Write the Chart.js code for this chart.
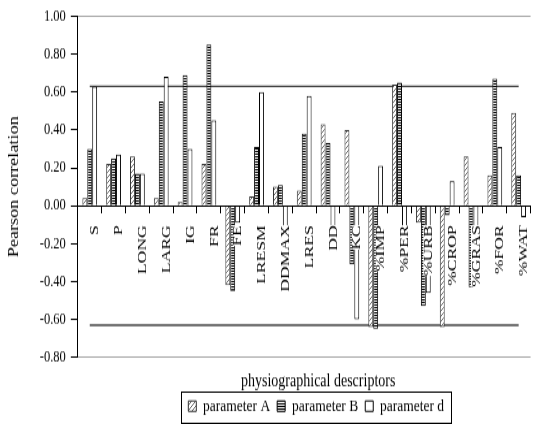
<!DOCTYPE html>
<html>
<head>
<meta charset="utf-8">
<script src="https://cdn.jsdelivr.net/npm/chart.js@4.4.1/dist/chart.umd.min.js"></script>
<style>
  html, body { margin: 0; padding: 0; background: #fff; }
  #chart { display: block; }
</style>
</head>
<body>
<!-- the reference is stretched vertically, so the canvas is drawn short and scaled up -->
<canvas id="chart" width="539" height="326" style="width:539px;height:424px"></canvas>
<script>
const descriptors = ['S', 'P', 'LONG', 'LARG', 'IG', 'FR', 'FE', 'LRESM', 'DDMAX', 'LRES',
    'DD', 'KC', '%IMP', '%PER', '%URB', '%CROP', '%GRAS', '%FOR', '%WAT'];

const paramA = [0.04, 0.22, 0.26, 0.04, 0.02, 0.22, -0.42, 0.05, 0.10, 0.08,
    0.43, 0.40, -0.64, 0.64, -0.09, -0.64, 0.26, 0.16, 0.49];
const paramB = [0.30, 0.25, 0.17, 0.55, 0.69, 0.85, -0.45, 0.31, 0.11, 0.38,
    0.33, -0.31, -0.65, 0.65, -0.53, -0.05, -0.43, 0.67, 0.16];
const paramD = [0.63, 0.27, 0.17, 0.68, 0.30, 0.45, -0.09, 0.60, -0.34, 0.58,
    -0.21, -0.60, 0.21, -0.22, -0.46, 0.13, -0.25, 0.31, -0.06];

// significance limits drawn from the first to the last descriptor
const limitEnds = ['S', '%WAT'];
const upperLimit = 0.63;
const lowerLimit = -0.63;

const yMin = -0.8;
const yMax = 1.0;
const yStep = 0.2;

const serif = "'Liberation Serif', 'Times New Roman', serif";

function makeHatch() {
    const c = document.createElement('canvas');
    c.width = 4; c.height = 4;
    const g = c.getContext('2d');
    g.fillStyle = '#fff';
    g.fillRect(0, 0, 4, 4);
    g.strokeStyle = '#6a6a6a';
    g.lineWidth = 1;
    g.beginPath();
    g.moveTo(0, 4); g.lineTo(4, 0);
    g.moveTo(-1, 1); g.lineTo(1, -1);
    g.moveTo(3, 5); g.lineTo(5, 3);
    g.stroke();
    return g.createPattern(c, 'repeat');
}

function makeStripes() {
    const c = document.createElement('canvas');
    c.width = 2; c.height = 2;
    const g = c.getContext('2d');
    g.fillStyle = '#fff';
    g.fillRect(0, 0, 2, 2);
    g.fillStyle = '#000';
    g.fillRect(0, 0, 2, 1);
    return g.createPattern(c, 'repeat');
}

// the original centres its title and legend a little right of the plot centre
const nudgeBottom = {
    id: 'nudgeBottom',
    afterLayout(chart) {
        if (chart.legend) { chart.legend.left += 12; chart.legend.right += 12; }
        if (chart.titleBlock) { chart.titleBlock.left += 14; chart.titleBlock.right += 14; }
    }
};

const legendFrame = {
    id: 'legendFrame',
    afterDraw(chart) {
        const boxes = chart.legend && chart.legend.legendHitBoxes;
        if (!boxes || !boxes.length) return;
        const left = Math.min(...boxes.map(b => b.left)) - 7;
        const right = Math.max(...boxes.map(b => b.left + b.width)) + 7;
        const top = boxes[0].top - 5;
        const bottom = boxes[0].top + boxes[0].height + 5;
        const ctx = chart.ctx;
        ctx.save();
        ctx.strokeStyle = '#000';
        ctx.lineWidth = 1;
        ctx.strokeRect(Math.round(left) + 0.5, Math.round(top) + 0.5,
            Math.round(right - left), Math.round(bottom - top));
        ctx.restore();
    }
};

const isEdge = v => Math.abs(v - yMax) < 1e-6 || Math.abs(v - yMin) < 1e-6;

new Chart(document.getElementById('chart'), {
    type: 'bar',
    data: {
        labels: descriptors,
        datasets: [{
            label: 'parameter A',
            data: paramA,
            backgroundColor: makeHatch(),
            borderColor: '#333',
            borderWidth: 1
        }, {
            label: 'parameter B',
            data: paramB,
            backgroundColor: makeStripes(),
            borderColor: '#000',
            borderWidth: 1
        }, {
            label: 'parameter d',
            data: paramD,
            backgroundColor: '#fff',
            borderColor: '#000',
            borderWidth: 1
        }, {
            type: 'line',
            data: limitEnds.map(c => ({ x: c, y: upperLimit })),
            borderColor: '#444',
            borderWidth: 1.4,
            pointRadius: 0
        }, {
            type: 'line',
            data: limitEnds.map(c => ({ x: c, y: lowerLimit })),
            borderColor: '#444',
            borderWidth: 1.4,
            pointRadius: 0
        }]
    },
    options: {
        responsive: false,
        animation: false,
        devicePixelRatio: 1,
        categoryPercentage: 0.62,
        barPercentage: 1,
        layout: { padding: { top: 11, left: 4, right: 0, bottom: -3 } },
        scales: {
            x: {
                position: { y: 0 },
                offset: true,
                grid: {
                    offset: true,
                    drawOnChartArea: false,
                    drawTicks: true,
                    tickLength: 5,
                    color: '#000',
                    tickColor: '#000'
                },
                border: { display: true, color: '#000', width: 1, z: 1 },
                ticks: {
                    autoSkip: false,
                    minRotation: 90,
                    maxRotation: 90,
                    padding: 10,
                    z: 1,
                    color: '#000',
                    font: { family: serif, size: 13.5, lineHeight: 0.75 },
                    showLabelBackdrop: true,
                    backdropColor: '#fff',
                    backdropPadding: 0
                }
            },
            y: {
                min: yMin,
                max: yMax,
                grid: {
                    color: ctx => isEdge(ctx.tick.value) ? '#a6a6a6' : 'rgba(0,0,0,0)',
                    tickColor: '#000',
                    tickLength: 7,
                    lineWidth: 1
                },
                border: { display: true, color: '#000', width: 1 },
                ticks: {
                    stepSize: yStep,
                    padding: 5,
                    color: '#000',
                    font: { family: serif, size: 12.5 },
                    callback: v => Math.abs(v) < 1e-9 ? '0.00' : v.toFixed(2)
                },
                title: {
                    display: true,
                    text: 'Pearson correlation',
                    color: '#000',
                    font: { family: serif, size: 14, weight: 'normal' },
                    padding: { top: 2, bottom: 12 }
                }
            }
        },
        plugins: {
            title: {
                display: true,
                text: 'physiographical descriptors',
                position: 'bottom',
                fullSize: false,
                weight: 500,
                color: '#000',
                font: { family: serif, size: 14, weight: 'normal' },
                padding: { top: 10, bottom: -3 }
            },
            legend: {
                position: 'bottom',
                fullSize: false,
                weight: 1000,
                labels: {
                    filter: item => item.datasetIndex < 3,
                    boxWidth: 8,
                    boxHeight: 8,
                    padding: 7,
                    color: '#000',
                    font: { family: serif, size: 13.5 }
                }
            },
            tooltip: { enabled: false }
        }
    },
    plugins: [nudgeBottom, legendFrame]
});
</script>
</body>
</html>
